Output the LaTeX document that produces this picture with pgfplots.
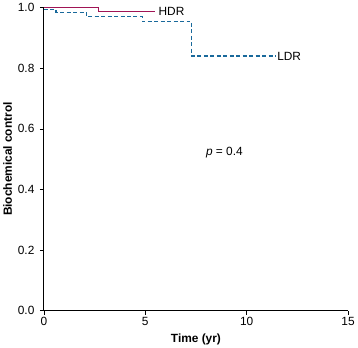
\documentclass[border=0pt]{standalone}
\usepackage{fontspec}
\setmainfont{Liberation Sans}
\usepackage{pgfplots}
\pgfplotsset{compat=1.18}
\definecolor{hdr}{RGB}{160,20,85}
\definecolor{ldr}{RGB}{25,105,155}
\begin{document}
\begin{tikzpicture}
\begin{axis}[
  scale only axis, width=306bp, height=305bp,
  xmin=0, xmax=15, ymin=0, ymax=1,
  axis lines=left, axis line style={-, line width=1pt},
  xtick={0,5,10,15}, ytick={0,0.2,0.4,0.6,0.8,1.0},
  tick align=outside, major tick length=4bp,
  tick style={black, line width=0.6pt},
  y tick label style={/pgf/number format/fixed, /pgf/number format/fixed zerofill, /pgf/number format/precision=1, xshift=-2bp},
  /pgf/number format/assume math mode=true,
  tick label style={font=\fontsize{12}{13}\selectfont},
  x tick label style={yshift=1bp},
  xlabel={\bfseries Time (yr)}, ylabel={\bfseries Biochemical control},
  label style={font=\fontsize{12}{13}\selectfont},
  xlabel style={yshift=-1pt}, ylabel style={yshift=-1pt},
  clip=false,
]
\addplot[hdr, line width=1.2pt, const plot] coordinates {(0,1.0) (2.7,1.0) (2.7,0.986) (5.5,0.986)};
\addplot[ldr, line width=1.2pt, dash pattern=on 4bp off 2.5bp, const plot] coordinates {(0,0.994) (0.6,0.994) (0.6,0.984) (2.1,0.984) (2.1,0.97) (4.85,0.97) (4.85,0.953) (7.3,0.953) (7.3,0.84) (11.4,0.84)};
\node[anchor=west, inner sep=1pt, font=\fontsize{12}{13}\selectfont] at (axis cs:5.6,0.986) {HDR};
\node[anchor=west, inner sep=1pt, font=\fontsize{12}{13}\selectfont] at (axis cs:11.45,0.84) {LDR};
\node[font=\fontsize{12}{13}\selectfont] at (axis cs:8.9,0.52) {\textit{p} = 0.4};
\end{axis}
\end{tikzpicture}
\end{document}
